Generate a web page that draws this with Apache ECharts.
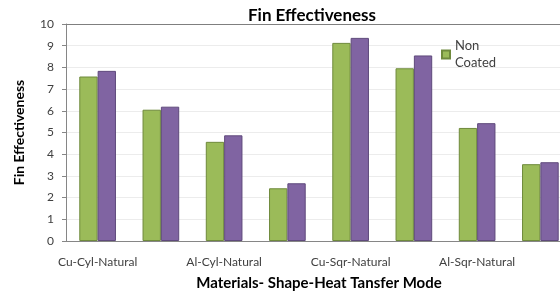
<!DOCTYPE html>
<html>
<head>
<meta charset="utf-8">
<script src="https://cdn.jsdelivr.net/npm/echarts@6/dist/echarts.min.js"></script>
<style>
  html, body { margin: 0; padding: 0; overflow: hidden; background: #fff; }
  #chart { width: 600px; height: 296px; }
</style>
</head>
<body>
<div id="chart"></div>
<script>
// data
const categories = ['Cu-Cyl-Natural', 'Cu-Cyl-Forced', 'Al-Cyl-Natural', 'Al-Cyl-Forced',
                    'Cu-Sqr-Natural', 'Cu-Sqr-Forced', 'Al-Sqr-Natural', 'Al-Sqr-Forced'];
const nonCoated = [7.58, 6.05, 4.57, 2.43, 9.13, 7.96, 5.21, 3.54];
const coated = [7.84, 6.19, 4.87, 2.66, 9.36, 8.55, 5.43, 3.63];
const yTicks = [0, 1, 2, 3, 4, 5, 6, 7, 8, 9, 10];

const chart = echarts.init(document.getElementById('chart'));
const font = 'Lato, "Open Sans", sans-serif';

chart.setOption({
    animation: false,
    title: {
        text: 'Fin Effectiveness',
        left: 307,
        top: 2,
        textAlign: 'center',
        textStyle: { fontFamily: font, fontSize: 17, fontWeight: 'bold', color: '#000' }
    },
    legend: {
        data: ['Non Coated'],
        orient: 'vertical',
        left: 436,
        top: 24,
        icon: 'rect',
        itemWidth: 8,
        itemHeight: 8,
        itemGap: 4,
        formatter: name => name.replace(' ', '\n'),
        textStyle: {
            fontFamily: font, fontSize: 13, color: '#404040',
            lineHeight: 17, padding: [17, 0, 0, 0]
        }
    },
    grid: { left: 66, right: 28, top: 24, bottom: 53 },
    xAxis: [{
        type: 'category',
        data: categories,
        name: 'Materials- Shape-Heat Tansfer Mode',
        nameLocation: 'middle',
        nameGap: 35,
        nameTextStyle: { fontFamily: font, fontSize: 15, fontWeight: 'bold', color: '#000' },
        axisLine: { lineStyle: { color: '#868686' } },
        axisTick: { interval: 0, alignWithLabel: false, length: 5, lineStyle: { color: '#868686' } },
        axisLabel: { interval: 1, margin: 15, fontFamily: font, fontSize: 12, color: '#404040' }
    }, {
        type: 'category',
        position: 'top',
        data: categories,
        axisLine: { lineStyle: { color: '#7f7f7f' } },
        axisTick: { show: false },
        axisLabel: { show: false }
    }],
    yAxis: {
        type: 'value',
        min: yTicks[0],
        max: yTicks[yTicks.length - 1],
        interval: 1,
        name: 'Fin Effectiveness',
        nameLocation: 'middle',
        nameGap: 40,
        nameTextStyle: { fontFamily: font, fontSize: 14, fontWeight: 'bold', color: '#000' },
        axisLine: { show: true, lineStyle: { color: '#868686' } },
        axisTick: { show: true, length: 4, lineStyle: { color: '#868686' } },
        axisLabel: { margin: 12, fontFamily: font, fontSize: 12, color: '#404040' },
        splitLine: { lineStyle: { color: '#ececec' } }
    },
    series: [{
        name: 'Non Coated',
        type: 'bar',
        data: nonCoated,
        barGap: '0%',
        barCategoryGap: '42%',
        itemStyle: { color: '#9BBB59', borderColor: '#6f8a3c', borderWidth: 1 }
    }, {
        name: 'Coated',
        type: 'bar',
        data: coated,
        itemStyle: { color: '#8064A2', borderColor: '#5f4a7c', borderWidth: 1 }
    }]
});
</script>
</body>
</html>
